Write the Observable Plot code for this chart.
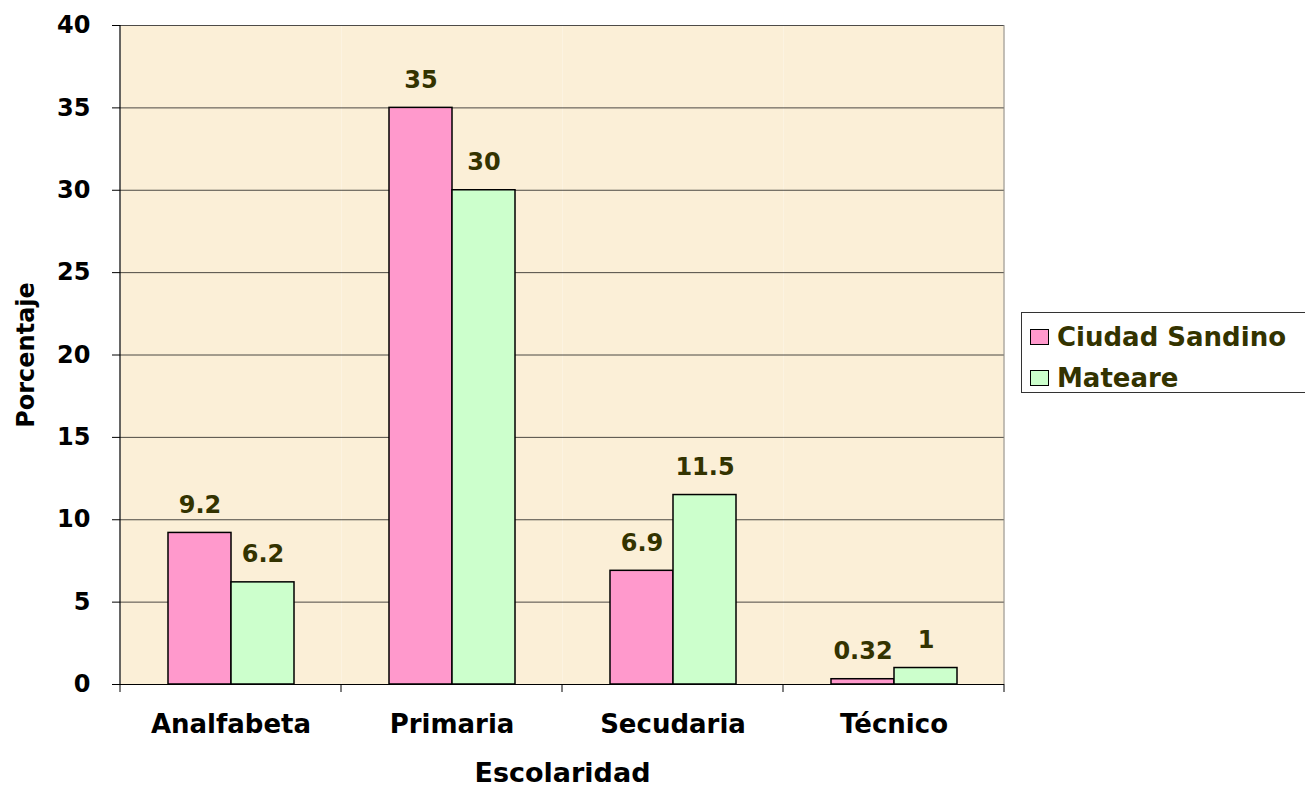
<!DOCTYPE html>
<html>
<head>
<meta charset="utf-8">
<script src="https://cdn.jsdelivr.net/npm/d3@7"></script>
<script src="https://cdn.jsdelivr.net/npm/@observablehq/plot@0.6"></script>
<style>
  html, body { margin: 0; padding: 0; background: #fff; }
  #wrap { position: relative; width: 1305px; height: 788px; overflow: hidden; }
  #legend { position: absolute; left: 1021px; top: 312px; width: 300px; height: 81px;
    border: 1px solid #333; background: #fff; font-family: "DejaVu Sans", "Liberation Sans", Arial, sans-serif;
    font-weight: bold; font-size: 26px; color: #333300; box-sizing: border-box; }
  .item { position: absolute; left: 8px; display: flex; align-items: center; line-height: 1; }
  .sw { width: 17px; height: 14px; border: 1.5px solid #000; margin-right: 8px; }
</style>
</head>
<body>
<div id="wrap"></div>
<script>
const categories = ["Analfabeta", "Primaria", "Secudaria", "Técnico"];
const series = ["Ciudad Sandino", "Mateare"];
const ciudadSandino = [9.2, 35, 6.9, 0.32];
const mateare = [6.2, 30, 11.5, 1];
const colors = ["#ff99cc", "#ccffcc"];
const yTicks = [0, 5, 10, 15, 20, 25, 30, 35, 40];

const data = [];
categories.forEach((c, i) => {
  data.push({category: c, series: series[0], value: ciudadSandino[i]});
  data.push({category: c, series: series[1], value: mateare[i]});
});

const chart = Plot.plot({
  width: 1305,
  height: 788,
  marginLeft: 118,
  marginTop: 25,
  marginRight: 300,
  marginBottom: 104,
  style: {fontFamily: "'DejaVu Sans', 'Liberation Sans', Arial, sans-serif", fontSize: "26px", fontWeight: "bold", background: "white", overflow: "visible"},
  fx: {domain: categories, padding: 0, label: "Escolaridad", labelAnchor: "center", labelOffset: 97, tickSize: 0, tickPadding: 30},
  x: {domain: series, paddingInner: 0, paddingOuter: 0.746, axis: null},
  y: {domain: [0, 40], ticks: yTicks, tickSize: 8, tickPadding: 22, label: "Porcentaje", labelAnchor: "center", labelOffset: 104, labelArrow: "none"},
  color: {domain: series, range: colors},
  marks: [
    Plot.frame({fill: "#fbefd7", stroke: null}),
    Plot.gridY(yTicks, {stroke: "#111", strokeOpacity: 0.75}),
    Plot.barY(data, {fx: "category", x: "series", y: "value", fill: "series", stroke: "#000", strokeWidth: 1.5}),
    Plot.text(data, {fx: "category", x: "series", y: "value", text: "value", dy: -28, fill: "#333300", fontSize: 24}),
    Plot.ruleY([0], {stroke: "#000", strokeWidth: 1.2})
  ]
});

const svg = d3.select(chart);
// per-axis font sizes
svg.selectAll('g[aria-label="y-axis tick label"], g[aria-label="y-axis label"]').attr("font-size", 24);
svg.selectAll('g[aria-label="fx-axis label"]').attr("font-size", 27);

// axis decorations positioned from the library's own scales
const fxs = chart.scale("fx");
const ys = chart.scale("y");
const edges = categories.map(c => fxs.apply(c)).concat([fxs.apply(categories[categories.length - 1]) + fxs.bandwidth]);
const y0 = ys.apply(0), yTop = ys.apply(40);
svg.append("g").attr("stroke", "#000").selectAll("line").data(edges).join("line")
  .attr("x1", d => d).attr("x2", d => d).attr("y1", y0).attr("y2", y0 + 8);
svg.append("line").attr("x1", edges[0]).attr("x2", edges[0]).attr("y1", yTop).attr("y2", y0).attr("stroke", "#000").attr("stroke-width", 1.2);
svg.append("line").attr("x1", edges[edges.length - 1]).attr("x2", edges[edges.length - 1]).attr("y1", yTop).attr("y2", y0).attr("stroke", "#888");

const wrap = document.getElementById("wrap");
wrap.appendChild(chart);

const legend = document.createElement("div");
legend.id = "legend";
series.forEach((s, i) => {
  const item = document.createElement("div");
  item.className = "item";
  item.style.top = (i === 0 ? 11 : 52) + "px";
  const sw = document.createElement("div");
  sw.className = "sw";
  sw.style.background = colors[i];
  const t = document.createElement("span");
  t.textContent = s;
  item.appendChild(sw); item.appendChild(t);
  legend.appendChild(item);
});
wrap.appendChild(legend);
</script>
</body>
</html>
